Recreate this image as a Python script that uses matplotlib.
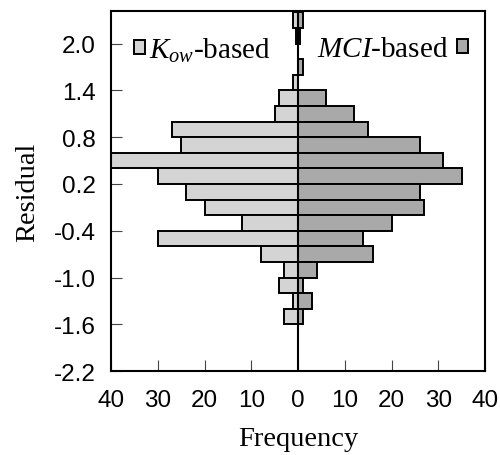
import matplotlib

matplotlib.use("Agg")
import matplotlib.pyplot as plt
import numpy as np

# residual histogram (bin lower edges, width 0.2)
bin_lo = [2.2, 2.0, 1.8, 1.6, 1.4, 1.2, 1.0, 0.8, 0.6, 0.4,
          0.2, 0.0, -0.2, -0.4, -0.6, -0.8, -1.0, -1.2, -1.4, -1.6]
kow_counts = [1, 0.5, 0, 0, 1, 4, 5, 27, 25, 40,
              30, 24, 20, 12, 30, 8, 3, 4, 1, 3]
mci_counts = [1, 0.5, 0, 1, 0, 6, 12, 15, 26, 31,
              35, 26, 27, 20, 14, 16, 4, 1, 3, 1]
bin_width = 0.2

y_ticks = [2.0, 1.4, 0.8, 0.2, -0.4, -1.0, -1.6, -2.2]
x_ticks = [-40, -30, -20, -10, 0, 10, 20, 30, 40]

plt.rcParams["mathtext.fontset"] = "custom"
plt.rcParams["mathtext.rm"] = "Liberation Serif"
plt.rcParams["mathtext.it"] = "Liberation Serif:italic"

serif = "Liberation Serif"
sans = "Liberation Sans"

fig = plt.figure(figsize=(5.0, 4.56), dpi=100)
ax = fig.add_axes([0.222, 0.184, 0.748, 0.790])

y = np.asarray(bin_lo)
kow_bars = ax.barh(y, -np.asarray(kow_counts), height=bin_width, align="edge",
                   color="#d4d4d4", edgecolor="black", linewidth=1.4, zorder=2)
mci_bars = ax.barh(y, np.asarray(mci_counts), height=bin_width, align="edge",
                   color="#a9a9a9", edgecolor="black", linewidth=1.4, zorder=2)
ax.axvline(0, color="black", linewidth=1.5, zorder=3)

ax.set_xlim(-40, 40)
ax.set_ylim(-2.2, 2.42)
ax.set_xticks(x_ticks)
ax.set_xticklabels([str(abs(v)) for v in x_ticks], fontfamily=sans, fontsize=17.5)
ax.set_yticks(y_ticks)
ax.set_yticklabels([f"{v:.1f}" for v in y_ticks], fontfamily=sans, fontsize=17.5)
ax.tick_params(axis="both", direction="in", length=8, width=0.8, color="#444444")
ax.tick_params(axis="x", pad=13)
ax.tick_params(axis="y", pad=11)
for sp in ax.spines.values():
    sp.set_linewidth(1.5)

ax.set_xlabel("Frequency", fontfamily=serif, fontsize=20.5, labelpad=11)
ax.set_ylabel("Residual", fontfamily=serif, fontsize=20.5, labelpad=10)

leg_font = {"family": serif, "size": 21}
leg1 = ax.legend([kow_bars], ["$K_{ow}$-based"], loc="center left",
                 bbox_to_anchor=(0.0, 0.893), frameon=False, prop=leg_font,
                 handlelength=0.35, handleheight=0.35, handletextpad=0.15,
                 borderaxespad=0.5, borderpad=0.3)
ax.add_artist(leg1)
ax.legend([mci_bars], ["$MCI$-based"], loc="center right",
          bbox_to_anchor=(1.0, 0.893), frameon=False, prop=leg_font,
          handlelength=0.35, handleheight=0.35, handletextpad=0.3,
          borderaxespad=0.2, borderpad=0.4, markerfirst=False)

fig.savefig("out.png", dpi=100)
plt.close(fig)
